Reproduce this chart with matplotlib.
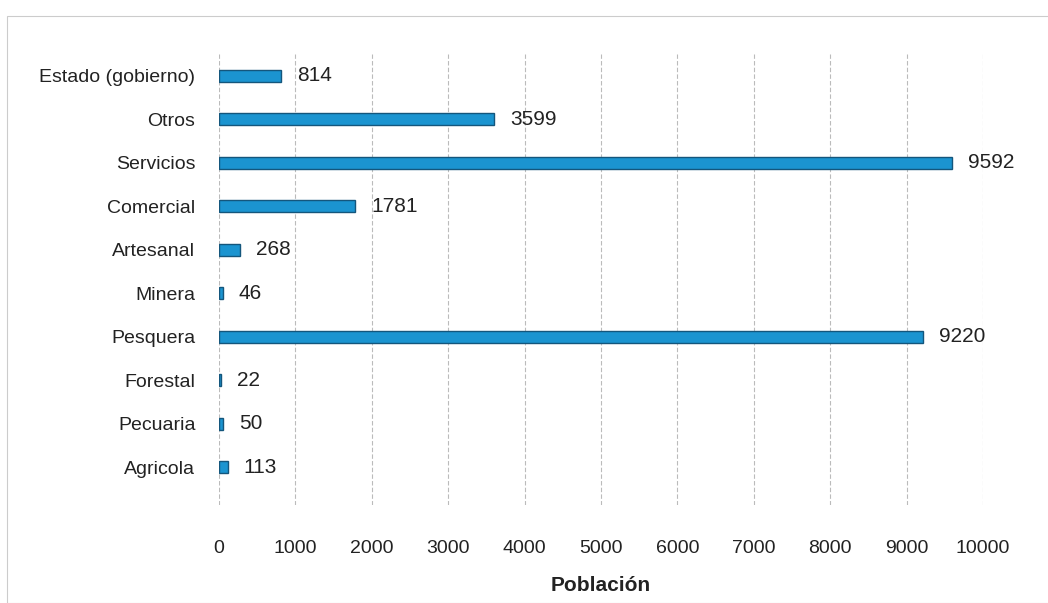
import matplotlib
matplotlib.use("Agg")
import matplotlib.pyplot as plt
from matplotlib.patches import Rectangle

categories = ["Agricola", "Pecuaria", "Forestal", "Pesquera", "Minera",
              "Artesanal", "Comercial", "Servicios", "Otros", "Estado (gobierno)"]
values = [113, 50, 22, 9220, 46, 268, 1781, 9592, 3599, 814]
xticks = [0, 1000, 2000, 3000, 4000, 5000, 6000, 7000, 8000, 9000, 10000]

plt.rcParams["font.family"] = ["Liberation Sans Narrow", "Liberation Sans", "DejaVu Sans"]

fig = plt.figure(figsize=(10.48, 6.03), dpi=100)
ax = fig.add_axes([0.209, 1 - 505 / 603, 0.729, 451 / 603])

y = range(len(categories))
ax.barh(y, values, height=0.28, color="#1b94d0", edgecolor="#14567c", linewidth=1.0, zorder=3)
for yi, v in zip(y, values):
    ax.text(v + 210, yi, str(v), va="center", ha="left", fontsize=15, color="#222222")

ax.set_xlim(0, 10000)
ax.set_ylim(-0.87, len(categories) - 0.5)
ax.set_yticks(list(y), categories)
ax.set_xticks(xticks, [str(t) for t in xticks])
ax.tick_params(axis="both", length=0, labelsize=14, colors="#222222")
ax.tick_params(axis="x", pad=25)
ax.tick_params(axis="y", pad=17)
for s in ax.spines.values():
    s.set_visible(False)
ax.grid(axis="x", color="#bbbbbb", lw=0.8, ls=(0, (4, 2)), zorder=0)
ax.set_xlabel("Población", fontsize=15, fontweight="bold", color="#222222", labelpad=14)

fig.patches.append(Rectangle((0.007, 0.0), 1.2, 0.973, transform=fig.transFigure,
                             fill=False, edgecolor="#cccccc", lw=0.8))

fig.savefig("out.png", dpi=100)
